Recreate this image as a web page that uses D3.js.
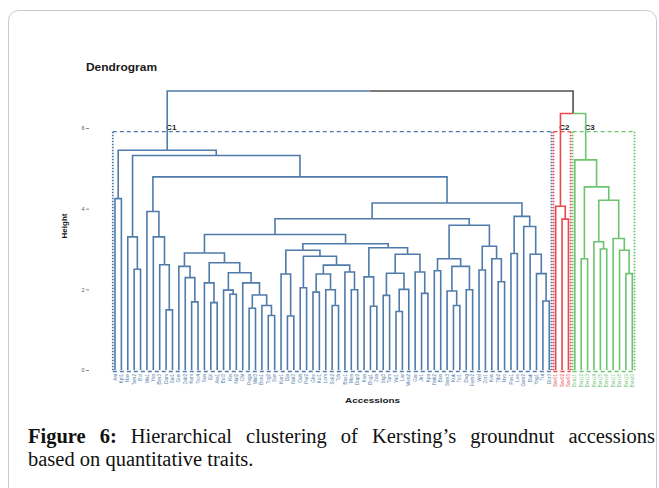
<!DOCTYPE html>
<html>
<head>
<meta charset="utf-8">
<script src="https://cdn.jsdelivr.net/npm/d3@7"></script>
<style>
  body { margin: 0; background: #fff; }
  svg { display: block; }
</style>
</head>
<body>
<script>
// leaf labels, left to right
var leafLabels = [
  "Ani", "Kpl1", "Nav", "Tam2", "Bol", "Wa1", "Yen", "Bim3", "Dam", "Sal1",
  "Gus", "Zab2", "Kum", "Tec4", "Sun", "Ejr", "Ata1", "Bol3", "Kin", "Nal2",
  "Chi", "Paga", "Wal3", "Ben1", "Tog2", "Sav", "Kar1", "Dja", "Nat3", "Ouh",
  "Par2", "Gbe", "Kol1", "Lom", "Sok2", "Tch", "Bas1", "Mon", "Dap2", "Kan",
  "Bog1", "Zua", "Sig3", "Tum", "Yal1", "Lar", "Wen2", "Gar", "Jir1", "Kpa",
  "Nak2", "Bun", "Sam3", "Kuk", "Tol1", "Dag", "Fum2", "Wel", "Zor1", "Kas",
  "Tib2", "Nyo", "Pus1", "Lee", "Gam2", "Bak", "Yag1", "Tut", "Dor3", "Sav01",
  "Sav02", "Sav03", "Ben11", "Ben12", "Ben13", "Ben14", "Ben15", "Ben16", "Ben17", "Ben18",
  "Ben19", "Ben20"
];

// subtrees as [left, right, height]; plain numbers are leaf indexes
var g0 = [0, 1, 4.25];
var g1 = [2, [3, 4, 2.5], 3.3];
var g2 = [5, [6, [7, [8, 9, 1.49], 2.61], 3.3], 3.93];
var s1 = [10, [11, [12, 13, 1.69], 2.29], 2.57];
var s2 = [[14, [15, 16, 1.67], 2.16],
          [[17, [18, 19, 1.88], 1.98], [20, [[21, 22, 1.53], [23, [24, 25, 1.35], 1.6], 1.86], 2.16], 2.41], 2.66];
var a1rLeft = [[26, [27, 28, 1.34], 2.38],
               [[29, 30, 2.04], [[[31, 32, 1.93], [33, [34, 35, 1.6], 1.99], 2.38], [36, [37, 38, 1.99], 2.43], 2.6], 2.82], 2.97];
var a1rRight = [[39, [40, 41, 1.58], 2.31],
                [[[42, 43, 1.85], [[44, 45, 1.45], 46, 2.0], 2.4], [47, [48, 49, 1.9], 2.43], 2.87], 3.03];
var a2 = [[[50, 51, 2.46], [[52, [53, 54, 1.6], 1.96], [55, 56, 1.99], 2.57], 2.76],
          [[57, 58, 2.48], [59, [60, 61, 2.19], 2.76], 3.07], 3.59];
var bGroup = [[62, 63, 2.89], [64, [65, [66, [67, 68, 1.71], 2.39], 2.87], 3.56], 3.81];
var c2Tree = [69, [70, 71, 3.74], 4.06];
var c3Tree = [72, [[73, 74, 2.76], [[75, [76, 77, 3.0], 3.18], [78, [79, [80, 81, 2.39], 2.97], 3.26], 4.21], 4.54], 5.21];

// upper merges
var bigGroup = [[[[s1, s2, 2.9], [a1rLeft, a1rRight, 3.13], 3.36], a2, 3.75], bGroup, 4.14];
var c1Tree = [g0, [g1, [g2, bigGroup, 4.79], 5.32], 5.45];
var root = [c1Tree, [c2Tree, c3Tree, 6.36], 6.92];

var clusterNames = ["C1", "C2", "C3"];
var clusterTrees = [c1Tree, c2Tree, c3Tree];
var clusterColors = ["#4f7bab", "#e8474c", "#6cc46e"];
var cutHeight = 5.91;
var yTicks = [0, 2, 4, 6];

var width = 659, height = 488;

var svg = d3.select("body").append("svg")
    .attr("width", width)
    .attr("height", height);

// card frame
svg.append("rect")
    .attr("x", 8.5).attr("y", 10.5)
    .attr("width", 648).attr("height", 500)
    .attr("rx", 10)
    .attr("fill", "#fff")
    .attr("stroke", "#c9c9d3");

// scales
var x = d3.scalePoint()
    .domain(leafLabels)
    .range([115, 632.3]);

var y = d3.scaleLinear()
    .domain([0, 7])
    .range([370, 87.7]);

// hierarchy from the nested arrays
var hroot = d3.hierarchy(root, function(d) { return Array.isArray(d) ? d.slice(0, 2) : null; });

hroot.eachAfter(function(n) {
  if (n.children) {
    n.h = n.data[2];
    n.px = d3.mean(n.children, function(c) { return c.px; });
  } else {
    n.h = 0;
    n.px = x(leafLabels[n.data]);
  }
});

hroot.each(function(n) {
  var i = clusterTrees.indexOf(n.data);
  if (i >= 0) n.cl = i;
  else n.cl = n.parent ? n.parent.cl : -1;
});

function colorOf(n) { return n.cl >= 0 ? clusterColors[n.cl] : "#505050"; }

// cluster boxes
clusterTrees.forEach(function(t, i) {
  var node = hroot.descendants().filter(function(n) { return n.data === t; })[0];
  var lv = node.leaves();
  var x0 = lv[0].px - 2.2, x1 = lv[lv.length - 1].px + 2.2;
  var y0 = y(cutHeight), y1 = y(0) + 1.5;
  var g = svg.append("g")
      .attr("stroke", clusterColors[i])
      .attr("stroke-width", 1.4)
      .attr("fill", "none");
  g.append("path")
      .attr("d", "M" + x0 + "," + y0 + "H" + x1 + "M" + x0 + "," + y1 + "H" + x1)
      .attr("stroke-dasharray", "4,3");
  g.append("path")
      .attr("d", "M" + x0 + "," + y0 + "V" + y1 + "M" + x1 + "," + y0 + "V" + y1)
      .attr("stroke-width", 1.8)
      .attr("stroke-dasharray", "1.6,1.4");
  svg.append("text")
      .attr("x", node.px + 4)
      .attr("y", y0 - 1.8)
      .attr("text-anchor", "middle")
      .attr("font-family", "Liberation Sans, Arial, sans-serif")
      .attr("font-weight", "bold")
      .attr("font-size", 8)
      .attr("fill", "#222")
      .text(clusterNames[i]);
});

// branches
svg.append("g")
    .attr("fill", "none")
    .attr("stroke-width", 1.6)
  .selectAll("path")
    .data(hroot.descendants().slice(1))
  .enter().append("path")
    .attr("d", function(n) {
      return "M" + n.parent.px + "," + y(n.parent.h) + "H" + n.px + "V" + y(n.h);
    })
    .attr("stroke", colorOf);

// leaf labels
svg.append("g")
    .attr("font-family", "Liberation Sans, Arial, sans-serif")
    .attr("font-size", 4.6)
  .selectAll("text")
    .data(hroot.leaves())
  .enter().append("text")
    .attr("transform", function(n) { return "translate(" + (n.px + 1.6) + ",374) rotate(-90)"; })
    .attr("text-anchor", "end")
    .attr("fill", colorOf)
    .text(function(n) { return leafLabels[n.data]; });

// y axis
var yAxis = svg.append("g")
    .attr("transform", "translate(89,0)")
    .call(d3.axisLeft(y).tickValues(yTicks).tickFormat(d3.format("d")).tickSize(3).tickPadding(1.5));
yAxis.select(".domain").remove();
yAxis.selectAll("line").attr("stroke", "#666").attr("stroke-width", 0.8);
yAxis.selectAll("text")
    .attr("font-family", "Liberation Sans, Arial, sans-serif")
    .attr("font-size", 5.5)
    .attr("fill", "#555");

// titles
svg.append("text")
    .attr("x", 86).attr("y", 71)
    .attr("font-family", "Liberation Sans, Arial, sans-serif")
    .attr("font-weight", "bold")
    .attr("font-size", 10)
    .attr("textLength", 71)
    .attr("lengthAdjust", "spacingAndGlyphs")
    .attr("fill", "#1a1a1a")
    .text("Dendrogram");

svg.append("text")
    .attr("transform", "translate(67,226) rotate(-90)")
    .attr("text-anchor", "middle")
    .attr("font-family", "Liberation Sans, Arial, sans-serif")
    .attr("font-weight", "bold")
    .attr("font-size", 8)
    .attr("fill", "#1a1a1a")
    .text("Height");

svg.append("text")
    .attr("x", 345).attr("y", 403)
    .attr("font-family", "Liberation Sans, Arial, sans-serif")
    .attr("font-weight", "bold")
    .attr("font-size", 8)
    .attr("textLength", 55)
    .attr("lengthAdjust", "spacingAndGlyphs")
    .attr("fill", "#1a1a1a")
    .text("Accessions");

// caption, first line justified
var captionWords = ["Figure", "6:", "Hierarchical", "clustering", "of", "Kersting’s", "groundnut", "accessions"];
var boldWords = 2;
var capLeft = 28, capRight = 655, capSize = 20.5;

var words = svg.append("g")
    .attr("font-family", "Liberation Serif, Times New Roman, serif")
    .attr("font-size", capSize)
    .attr("fill", "#111")
  .selectAll("text")
    .data(captionWords)
  .enter().append("text")
    .attr("y", 443)
    .attr("font-weight", function(d, i) { return i < boldWords ? "bold" : "normal"; })
    .text(function(d) { return d; });

var lens = [];
words.each(function() { lens.push(this.getComputedTextLength()); });
var gap = (capRight - capLeft - d3.sum(lens)) / (lens.length - 1);
var cx = capLeft;
words.attr("x", function(d, i) { var v = cx; cx += lens[i] + gap; return v; });

svg.append("text")
    .attr("x", capLeft).attr("y", 466)
    .attr("font-family", "Liberation Serif, Times New Roman, serif")
    .attr("font-size", capSize)
    .attr("fill", "#111")
    .text("based on quantitative traits.");
</script>
</body>
</html>
